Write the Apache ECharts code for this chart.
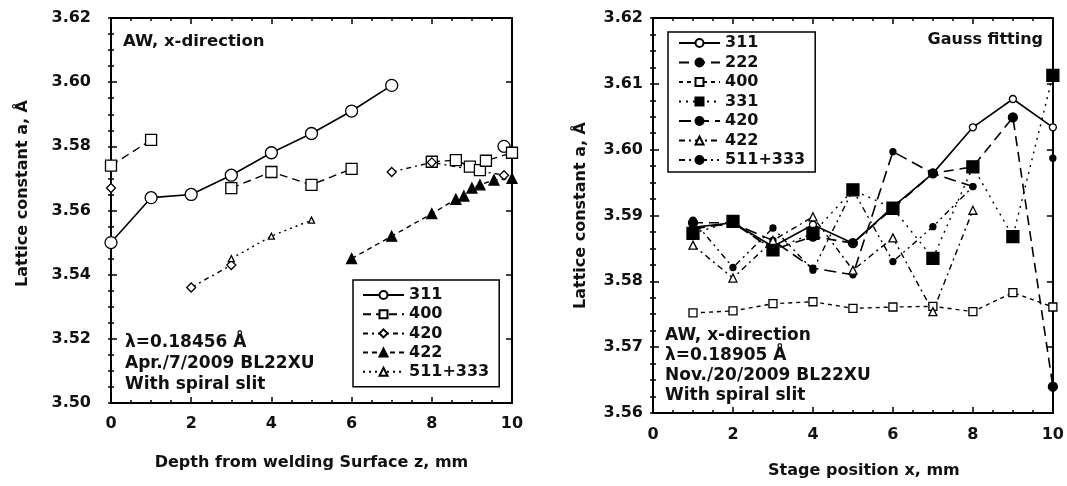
<!DOCTYPE html>
<html>
<head>
<meta charset="utf-8">
<script src="https://cdn.jsdelivr.net/npm/echarts@6/dist/echarts.min.js"></script>
<style>
  html, body { margin: 0; padding: 0; background: #fff; }
  #left { position: absolute; left: 0; top: 0; width: 540px; height: 486px; }
  #right { position: absolute; left: 540px; top: 0; width: 527px; height: 486px; }
</style>
</head>
<body>
<div id="left"></div>
<div id="right"></div>
<script>
// left panel: depth from welding surface (mm) vs lattice constant
const depth311 = [0, 1, 2, 3, 4, 5, 6, 7, 8, 9.8];
const lat311 = [3.550, 3.564, 3.565, 3.571, 3.578, 3.584, 3.591, 3.599, null, 3.580];
const depth400 = [0, 1, 2, 3, 4, 5, 6, 7, 8, 8.6, 8.95, 9.2, 9.35, 10];
const lat400 = [3.574, 3.582, null, 3.567, 3.572, 3.568, 3.573, null, 3.5752, 3.5757, 3.5737, 3.5726, 3.5755, 3.578];
const depth420 = [0, 1, 2, 3, 5, 7, 8, 9.8];
const lat420 = [3.567, null, 3.536, 3.543, null, 3.572, 3.575, 3.571];
const depth422 = [6, 7, 8, 8.6, 8.8, 9, 9.2, 9.55, 10];
const lat422 = [3.545, 3.552, 3.559, 3.5635, 3.5645, 3.567, 3.568, 3.5695, 3.570];
const depth511 = [3, 4, 5];
const lat511 = [3.545, 3.552, 3.557];

// right panel: stage position x (mm)
const stageX = [1, 2, 3, 4, 5, 6, 7, 8, 9, 10];
const g311 = [3.5882, 3.5889, 3.5853, 3.5886, 3.5858, 3.5913, 3.5964, 3.6034, 3.6077, 3.6034];
const g222 = [3.5889, 3.5889, 3.5848, 3.5868, 3.5858, 3.5911, 3.5964, 3.5974, 3.6049, 3.5640];
const g400 = [3.5752, 3.5755, 3.5766, 3.5769, 3.5759, 3.5761, 3.5762, 3.5754, 3.5783, 3.5761];
const g331 = [3.5873, 3.5891, 3.5848, 3.5873, 3.5939, 3.5911, 3.5835, 3.5974, 3.5868, 3.6113];
const g420 = [3.5880, 3.5888, 3.5862, 3.5820, 3.5810, 3.5997, 3.5964, 3.5944, null, 3.5987];
const g422 = [3.5855, 3.5805, 3.5862, 3.5898, 3.5817, 3.5866, 3.5754, 3.5908, null, null];
const g511 = [3.5893, 3.5821, 3.5881, 3.5817, 3.5939, 3.5830, 3.5883, 3.5944, null, null];

const FONT = 'DejaVu Sans';
const pairs = (xs, ys) => xs.map((x, i) => [x, ys[i] === null ? '-' : ys[i]]);

// each side of the box gets a major axis and a minor-tick axis
function boxAxes(o) {
  const line = { show: true, onZero: false, lineStyle: { color: '#000', width: 2 } };
  const tick = (len) => ({ show: true, inside: true, length: len, lineStyle: { color: '#000', width: 1.5 } });
  const axis = (min, max, step, len, pos, extra) => Object.assign({
    type: 'value', min: min, max: max, interval: step, position: pos,
    axisLine: len > 4 ? line : { show: false }, axisTick: tick(len),
    axisLabel: { show: false }, splitLine: { show: false }
  }, extra || {});
  const labelStyle = { fontFamily: FONT, fontSize: 16, fontWeight: 'bold', color: '#111' };
  return {
    xAxis: [
      axis(0, 10, 2, 6, 'bottom', {
        name: o.xName, nameLocation: 'middle', nameGap: o.xNameGap,
        nameTextStyle: { fontFamily: FONT, fontSize: 16, fontWeight: 'bold', color: '#111', padding: o.xNamePad },
        axisLabel: Object.assign({ margin: o.xMargin }, labelStyle)
      }),
      axis(0, 10, 0.5, 3, 'bottom'),
      axis(0, 10, 2, 6, 'top'),
      axis(0, 10, 0.5, 3, 'top')
    ],
    yAxis: [
      axis(o.ymin, o.ymax, o.ystep, 6, 'left', {
        name: 'Lattice constant a, Å', nameLocation: 'middle', nameGap: o.yNameGap, nameRotate: 90,
        nameTextStyle: { fontFamily: FONT, fontSize: 16, fontWeight: 'bold', color: '#111', padding: o.yNamePad },
        axisLabel: Object.assign({ margin: o.yMargin, formatter: (v) => v.toFixed(2) }, labelStyle)
      }),
      axis(o.ymin, o.ymax, o.yminor, 3, 'left'),
      axis(o.ymin, o.ymax, o.ystep, 6, 'right'),
      axis(o.ymin, o.ymax, o.yminor, 3, 'right')
    ]
  };
}

function line(name, data, symbol, size, filled, dash, width) {
  return {
    name: name, type: 'line', data: data, symbol: symbol, symbolSize: size,
    showAllSymbol: true, connectNulls: false, animation: false,
    itemStyle: { color: filled ? '#000' : '#fff', borderColor: '#000', borderWidth: 1.3 },
    lineStyle: { color: '#000', width: width || 1.4, type: dash }
  };
}

function legendBox(left, top, names, gap, pad) {
  return {
    orient: 'vertical', left: left, top: top, data: names,
    itemWidth: 41, itemHeight: 10, itemGap: gap, padding: pad,
    borderColor: '#000', borderWidth: 1.5, selectedMode: false,
    textStyle: { fontFamily: FONT, fontSize: 16, fontWeight: 'bold', color: '#111', lineHeight: 16 }
  };
}

function note(pos, text, size, lh) {
  return Object.assign({
    type: 'text',
    style: { text: text, font: 'bold ' + size + 'px "' + FONT + '"', fill: '#111', lineHeight: lh }
  }, pos);
}

const leftChart = echarts.init(document.getElementById('left'));
leftChart.setOption(Object.assign({
  animation: false,
  grid: { left: 111, top: 18, width: 401, height: 385 },
  legend: legendBox(353, 280, ['311', '400', '420', '422', '511+333'], 3.2, [7, 10, 7, 9]),
  graphic: [
    note({ left: 123, top: 32 }, 'AW, x-direction', 16.5, 20),
    note({ left: 125, top: 332 }, 'λ=0.18456 Å\nApr./7/2009 BL22XU\nWith spiral slit', 17, 21)
  ],
  series: [
    line('311', pairs(depth311, lat311), 'circle', 12, false, 'solid', 1.6),
    line('400', pairs(depth400, lat400), 'rect', 11, false, [8, 5]),
    line('420', pairs(depth420, lat420), 'diamond', 9, false, [5, 4, 2, 4]),
    line('422', pairs(depth422, lat422), 'triangle', 10, true, [5, 4]),
    line('511+333', pairs(depth511, lat511), 'triangle', 6, false, [2, 4])
  ]
}, boxAxes({
  ymin: 3.50, ymax: 3.62, ystep: 0.02, yminor: 0.005,
  xName: 'Depth from welding Surface z, mm', xNameGap: 52, xNamePad: 0, xMargin: 13,
  yNameGap: 80, yNamePad: [0, 0, 0, 34], yMargin: 20
})));

const rightChart = echarts.init(document.getElementById('right'));
rightChart.setOption(Object.assign({
  animation: false,
  grid: { left: 113, top: 18, width: 402, height: 395 },
  legend: legendBox(128, 32, ['311', '222', '400', '331', '420', '422', '511+333'], 3.5, [3, 10, 4, 10]),
  graphic: [
    note({ right: 24, top: 30 }, 'Gauss fitting', 16, 20),
    note({ left: 125, top: 326 }, 'AW, x-direction\nλ=0.18905 Å\nNov./20/2009 BL22XU\nWith spiral slit', 17, 20)
  ],
  series: [
    line('311', pairs(stageX, g311), 'circle', 7, false, 'solid', 1.6),
    line('222', pairs(stageX, g222), 'circle', 9, true, [10, 6], 1.6),
    line('400', pairs(stageX, g400), 'rect', 8, false, [4, 4]),
    line('331', pairs(stageX, g331), 'rect', 12, true, [2, 5]),
    line('420', pairs(stageX, g420), 'circle', 6, true, [12, 6], 1.6),
    line('422', pairs(stageX, g422), 'triangle', 8, false, [6, 4, 2, 4]),
    line('511+333', pairs(stageX, g511), 'circle', 6, true, [6, 4, 2, 4, 2, 4])
  ]
}, boxAxes({
  ymin: 3.56, ymax: 3.62, ystep: 0.01, yminor: 0.0025,
  xName: 'Stage position x, mm', xNameGap: 50, xNamePad: [0, 0, 0, 22], xMargin: 14,
  yNameGap: 64, yNamePad: 0, yMargin: 10
})));
</script>
</body>
</html>
